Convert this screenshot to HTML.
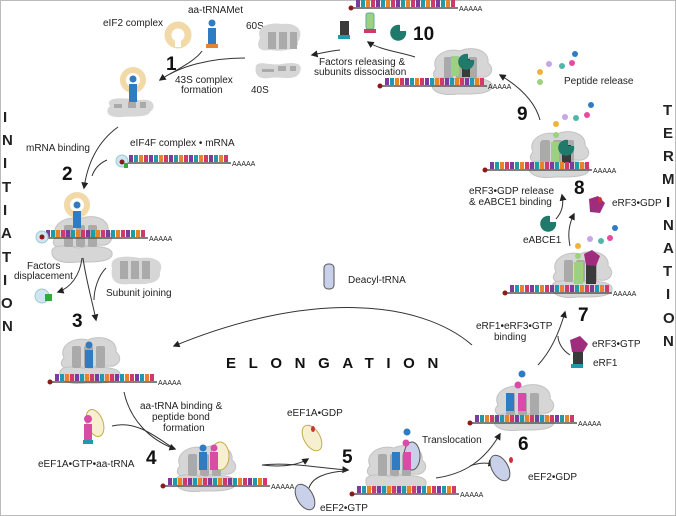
<!DOCTYPE html>
<html><head><meta charset="utf-8"><style>
html,body{margin:0;padding:0;background:#fff}
svg{display:block}
text{font-family:"Liberation Sans",sans-serif;fill:#222}
.s{font-size:10px}
.n{font-size:19px;font-weight:bold;fill:#111}
.v{font-size:15px;font-weight:bold;fill:#111}
.a{fill:none;stroke:#333;stroke-width:1}
</style></head><body>
<svg width="676" height="516" viewBox="0 0 676 516" xmlns="http://www.w3.org/2000/svg">
<defs>
<pattern id="mp" width="20" height="7" patternUnits="userSpaceOnUse">
<rect x="0" y="0" width="4" height="7" fill="#7a3d9e"/><rect x="5" y="0" width="4" height="7" fill="#1f9aa8"/>
<rect x="10" y="0" width="4" height="7" fill="#e8832a"/><rect x="15" y="0" width="4" height="7" fill="#cf3a6a"/>
</pattern>
<marker id="ah" viewBox="0 0 10 10" refX="8" refY="5" markerWidth="7" markerHeight="7" orient="auto"><path d="M0,0L10,5L0,10z" fill="#222"/></marker>
<g id="ribo">
<path d="M8,22C2,10 18,0 32,4C45,-2 62,4 60,16C68,22 62,32 52,30L12,32C4,32 4,26 8,22Z" fill="#d6d6d6" stroke="#c2c2c2"/>
<path d="M4,38C2,29 20,30 30,33C45,30 66,31 64,40C62,48 40,47 30,47C14,49 4,45 4,38Z" fill="#d6d6d6" stroke="#c2c2c2"/>
<rect x="16" y="10" width="9" height="22" rx="2" fill="#aaa"/><rect x="28" y="10" width="9" height="22" rx="2" fill="#aaa"/><rect x="40" y="10" width="9" height="22" rx="2" fill="#aaa"/>
</g>
<g id="mrna"><rect x="0" y="0" width="100" height="7" fill="url(#mp)"/><line x1="-5" y1="8" x2="102" y2="8" stroke="#555" stroke-width="1.5"/><circle cx="-5" cy="8" r="2.5" fill="#8b1a1a"/><text x="103" y="11" style="font-size:7px">AAAAA</text></g>
</defs>
<rect x="0.5" y="0.5" width="675" height="515" fill="none" stroke="#bbb"/>

<text class="s" x="103" y="26">eIF2 complex</text>
<circle cx="178" cy="35" r="10" fill="none" stroke="#f1d9a8" stroke-width="7"/>
<rect x="175" y="41" width="6" height="6" fill="#fff"/>
<text class="s" x="188" y="13">aa-tRNAMet</text>
<circle cx="212" cy="23" r="3.5" fill="#2f7cc3"/><rect x="208" y="28" width="8" height="16" fill="#2f7cc3"/><rect x="206" y="44" width="12" height="4" fill="#e8832a"/>
<text class="s" x="246" y="29">60S</text><text class="s" x="251" y="93">40S</text>
<path d="M260,38C255,26 270,22 282,24C296,22 305,30 298,42C300,50 280,52 270,50C258,52 256,46 260,38Z" fill="#d6d6d6"/>
<rect x="268" y="32" width="8" height="17" fill="#aaa"/><rect x="279" y="32" width="8" height="17" fill="#aaa"/><rect x="290" y="32" width="7" height="17" fill="#aaa"/>
<path d="M256,66C258,60 270,66 282,64C292,62 304,62 300,72C296,82 280,76 270,78C258,80 254,74 256,66Z" fill="#d6d6d6"/>
<rect x="262" y="69" width="12" height="3" fill="#aaa"/><rect x="278" y="66" width="8" height="5" fill="#aaa"/><rect x="290" y="66" width="6" height="5" fill="#aaa"/>
<text class="n" x="166" y="70">1</text>
<text class="s" x="175" y="83">43S complex</text><text class="s" x="181" y="93">formation</text>
<path class="a" d="M245,58C210,58 180,66 160,80" marker-end="url(#ah)"/>
<path class="a" d="M202,51C196,60 180,68 170,74"/>
<circle cx="133" cy="80" r="10" fill="none" stroke="#f1d9a8" stroke-width="6"/>
<path d="M110,106C104,96 125,98 140,100C152,98 158,106 150,112C148,118 130,116 122,117C108,118 104,112 110,106Z" fill="#d6d6d6"/>
<circle cx="133" cy="79" r="3.5" fill="#2f7cc3"/><rect x="129" y="84" width="8" height="18" fill="#2f7cc3"/>
<rect x="114" y="104" width="8" height="4" fill="#aaa"/><rect x="128" y="102" width="8" height="6" fill="#aaa"/><rect x="140" y="102" width="6" height="6" fill="#aaa"/>

<g class="v">
<text x="3" y="122">I</text><text x="2" y="145">N</text><text x="3" y="168">I</text><text x="2" y="192">T</text><text x="3" y="215">I</text><text x="1" y="238">A</text><text x="2" y="262">T</text><text x="3" y="285">I</text><text x="1" y="308">O</text><text x="2" y="331">N</text>
<text x="663" y="115">T</text><text x="663" y="138">E</text><text x="663" y="161">R</text><text x="662" y="184">M</text><text x="666" y="207">I</text><text x="663" y="230">N</text><text x="663" y="253">A</text><text x="663" y="276">T</text><text x="666" y="299">I</text><text x="663" y="323">O</text><text x="663" y="346">N</text>
</g>

<text class="s" x="26" y="151">mRNA binding</text>
<text class="s" x="130" y="146">eIF4F complex • mRNA</text>
<use href="#mrna" x="129" y="155"/>
<circle cx="122" cy="161" r="6" fill="#cfe6f2" stroke="#9cc"/><circle cx="122" cy="162" r="2.5" fill="#8b1a1a"/><rect x="124" y="163" width="4" height="5" fill="#3a3"/>
<path class="a" d="M118,127C100,140 88,160 84,188" marker-end="url(#ah)"/>
<path class="a" d="M107,160C98,164 94,170 92,176"/>
<text class="n" x="62" y="180">2</text>
<use href="#ribo" x="48" y="215"/>
<circle cx="77" cy="205" r="10" fill="none" stroke="#f1d9a8" stroke-width="6"/>
<circle cx="77" cy="205" r="3.5" fill="#2f7cc3"/><rect x="73" y="211" width="8" height="17" fill="#2f7cc3"/>
<use href="#mrna" x="46" y="230"/>
<circle cx="42" cy="237" r="6" fill="#cfe6f2" stroke="#9cc"/><circle cx="42" cy="237" r="2.5" fill="#8b1a1a"/>
<text class="s" x="27" y="269">Factors</text><text class="s" x="14" y="279">displacement</text>
<circle cx="42" cy="296" r="7" fill="#cfe6f2" stroke="#9cc"/><rect x="45" y="294" width="7" height="7" fill="#3a3"/>
<path class="a" d="M82,258C80,276 70,288 58,292" marker-end="url(#ah)"/>
<path d="M112,268C108,254 130,256 140,258C155,256 165,262 160,272C162,286 140,284 130,284C115,286 110,280 112,268Z" fill="#d6d6d6"/>
<rect x="120" y="261" width="8" height="18" fill="#aaa"/><rect x="131" y="261" width="8" height="18" fill="#aaa"/><rect x="142" y="261" width="8" height="18" fill="#aaa"/>
<text class="s" x="106" y="296">Subunit joining</text>
<path class="a" d="M83,258C86,280 92,300 96,320" marker-end="url(#ah)"/>
<path class="a" d="M106,268C98,276 94,290 94,300"/>
<text class="n" x="72" y="327">3</text>
<use href="#ribo" x="56" y="336"/>
<circle cx="89" cy="345" r="3.5" fill="#2f7cc3"/><rect x="85" y="350" width="8" height="18" fill="#2f7cc3"/>
<use href="#mrna" x="55" y="374"/>

<rect x="324" y="264" width="10" height="25" rx="4" fill="#c9d0ea" stroke="#555"/>
<text class="s" x="348" y="283">Deacyl-tRNA</text>
<path class="a" d="M472,345C420,300 310,290 174,346" marker-end="url(#ah)"/>
<text x="226" y="368" style="font-size:15px;font-weight:bold;letter-spacing:12.6px;fill:#111">ELONGATION</text>

<text class="s" x="140" y="409">aa-tRNA binding &amp;</text><text class="s" x="152" y="420">peptide bond</text><text class="s" x="163" y="431">formation</text>
<path class="a" d="M124,392C130,420 150,440 175,449" marker-end="url(#ah)"/>
<path class="a" d="M112,426C135,420 155,436 170,446"/>
<ellipse cx="95" cy="423" rx="8" ry="14" fill="#f6efd0" stroke="#c9a84a" transform="rotate(-20 95 423)"/>
<circle cx="88" cy="419" r="4" fill="#d84ca8"/><rect x="84" y="424" width="8" height="16" fill="#d84ca8"/><rect x="83" y="440" width="10" height="4" fill="#1f9aa8"/>
<text class="s" x="38" y="467">eEF1A•GTP•aa-tRNA</text>
<text class="n" x="146" y="464">4</text>
<use href="#ribo" x="172" y="444"/>
<ellipse cx="220" cy="456" rx="9" ry="14" fill="#f6efd0" stroke="#c9a84a"/>
<circle cx="203" cy="448" r="3.5" fill="#2f7cc3"/><rect x="199" y="452" width="8" height="18" fill="#2f7cc3"/>
<circle cx="214" cy="448" r="3.5" fill="#d84ca8"/><rect x="210" y="452" width="8" height="18" fill="#d84ca8"/>
<use href="#mrna" x="168" y="478"/>
<text class="s" x="287" y="416">eEF1A•GDP</text>
<ellipse cx="312" cy="438" rx="8" ry="14" fill="#f6efd0" stroke="#c9a84a" transform="rotate(-30 312 438)"/>
<ellipse cx="313" cy="429" rx="2" ry="3" fill="#c33"/>
<path class="a" d="M262,465C285,468 300,464 308,459" marker-end="url(#ah)"/>
<path class="a" d="M262,465C290,462 320,468 348,470" marker-end="url(#ah)"/>
<text class="n" x="342" y="463">5</text>
<ellipse cx="305" cy="497" rx="8" ry="14" fill="#c9d0ea" stroke="#555" transform="rotate(-30 305 497)"/>
<path class="a" d="M309,488C312,478 325,472 345,471"/>
<text class="s" x="320" y="511">eEF2•GTP</text>
<use href="#ribo" x="362" y="444"/>
<ellipse cx="412" cy="456" rx="8" ry="14" fill="#c9d0ea" stroke="#555"/>
<circle cx="406" cy="443" r="3.5" fill="#d84ca8"/><circle cx="407" cy="432" r="3.5" fill="#2f7cc3"/>
<rect x="392" y="452" width="8" height="18" fill="#2f7cc3"/><rect x="403" y="452" width="8" height="18" fill="#d84ca8"/>
<use href="#mrna" x="357" y="486"/>
<text class="s" x="422" y="443">Translocation</text>
<path class="a" d="M436,478C465,474 485,460 500,434" marker-end="url(#ah)"/>
<path class="a" d="M470,466C480,462 488,463 494,464" marker-end="url(#ah)"/>
<ellipse cx="500" cy="468" rx="8" ry="14" fill="#c9d0ea" stroke="#555" transform="rotate(-30 500 468)"/>
<ellipse cx="511" cy="460" rx="2" ry="3" fill="#c33"/>
<text class="s" x="528" y="480">eEF2•GDP</text>
<text class="n" x="518" y="450">6</text>
<use href="#ribo" x="490" y="383"/>
<circle cx="522" cy="374" r="3.5" fill="#2f7cc3"/><circle cx="518" cy="385" r="3.5" fill="#d84ca8"/>
<rect x="506" y="393" width="8" height="18" fill="#2f7cc3"/><rect x="518" y="393" width="8" height="18" fill="#d84ca8"/>
<use href="#mrna" x="475" y="415"/>

<path class="a" d="M538,365C552,350 560,330 565,312" marker-end="url(#ah)"/>
<text class="s" x="476" y="329">eRF1•eRF3•GTP</text><text class="s" x="494" y="340">binding</text>
<text class="n" x="578" y="321">7</text>
<path d="M570,340L580,336L588,344L582,354L572,352Z" fill="#a02c7e"/>
<rect x="573" y="352" width="10" height="12" fill="#3a3a3a"/><rect x="571" y="364" width="12" height="4" fill="#1f9aa8"/>
<path class="a" d="M570,355C562,350 558,342 558,336"/>
<text class="s" x="592" y="347">eRF3•GTP</text><text class="s" x="593" y="366">eRF1</text>
<use href="#ribo" x="548" y="250"/>
<rect x="574" y="262" width="9" height="22" fill="#9bd17f"/><rect x="586" y="262" width="10" height="22" fill="#3a3a3a"/>
<path d="M584,254L592,250L600,256L596,266L586,265Z" fill="#a02c7e"/>
<circle cx="578" cy="256" r="3" fill="#9bd17f"/><circle cx="578" cy="246" r="3" fill="#f0b23c"/>
<circle cx="590" cy="239" r="3" fill="#c6a6e6"/><circle cx="601" cy="241" r="3" fill="#4fb6a8"/><circle cx="610" cy="238" r="3" fill="#e54ca0"/><circle cx="615" cy="228" r="3" fill="#2f7cc3"/>
<use href="#mrna" x="510" y="285"/>

<path class="a" d="M570,246C568,236 568,226 574,214" marker-end="url(#ah)"/>
<path class="a" d="M556,219C562,212 564,205 562,195" marker-end="url(#ah)"/>
<text class="n" x="574" y="194">8</text>
<text class="s" x="469" y="194">eRF3•GDP release</text><text class="s" x="469" y="205">&amp; eABCE1 binding</text>
<path d="M550,216A8,8 0 1,0 556,222L550,222Z" fill="#1f7a6c"/>
<text class="s" x="523" y="243">eABCE1</text>
<path d="M589,199L598,196L605,203L600,213L590,212Z" fill="#a02c7e"/><ellipse cx="600" cy="200" rx="2" ry="3" fill="#c33"/>
<text class="s" x="612" y="206">eRF3•GDP</text>

<text class="n" x="517" y="120">9</text>
<path class="a" d="M540,120C536,105 525,90 500,75" marker-end="url(#ah)"/>
<use href="#ribo" x="525" y="130"/>
<rect x="540" y="142" width="8" height="20" fill="#aaa"/><rect x="551" y="142" width="8" height="20" fill="#9bd17f"/><rect x="562" y="145" width="9" height="18" fill="#3a3a3a"/>
<path d="M568,140A8,8 0 1,0 574,146L568,146Z" fill="#1f7a6c"/>
<circle cx="556" cy="135" r="3" fill="#9bd17f"/><circle cx="556" cy="124" r="3" fill="#f0b23c"/>
<circle cx="565" cy="117" r="3" fill="#c6a6e6"/><circle cx="576" cy="118" r="3" fill="#4fb6a8"/><circle cx="587" cy="115" r="3" fill="#e54ca0"/><circle cx="591" cy="105" r="3" fill="#2f7cc3"/>
<use href="#mrna" x="490" y="162"/>
<circle cx="540" cy="82" r="3" fill="#9bd17f"/><circle cx="540" cy="72" r="3" fill="#f0b23c"/><circle cx="549" cy="64" r="3" fill="#c6a6e6"/><circle cx="562" cy="66" r="3" fill="#4fb6a8"/><circle cx="572" cy="63" r="3" fill="#e54ca0"/><circle cx="575" cy="54" r="3" fill="#2f7cc3"/>
<text class="s" x="564" y="84">Peptide release</text>

<use href="#ribo" x="428" y="47"/>
<rect x="451" y="56" width="8" height="20" fill="#9bd17f"/><rect x="462" y="59" width="8" height="18" fill="#3a3a3a"/>
<path d="M468,54A8,8 0 1,0 474,60L468,60Z" fill="#1f7a6c"/>
<use href="#mrna" x="385" y="78"/>
<use href="#mrna" x="356" y="0"/>
<rect x="340" y="21" width="9" height="14" fill="#3a3a3a"/><rect x="338" y="35" width="12" height="4" fill="#1f9aa8"/>
<rect x="366" y="13" width="8" height="16" rx="2" fill="#9bd17f" stroke="#6a9"/><rect x="364" y="29" width="12" height="4" fill="#cf3a6a"/>
<path d="M400,25A8,8 0 1,0 406,31L400,31Z" fill="#1f7a6c"/>
<text class="n" x="413" y="40">10</text>
<path class="a" d="M415,57C400,52 380,50 368,42" marker-end="url(#ah)"/>
<path class="a" d="M340,50C330,51 322,53 312,55" marker-end="url(#ah)"/>
<text class="s" x="319" y="65">Factors releasing &amp;</text><text class="s" x="314" y="75">subunits dissociation</text>
</svg>
</body></html>
